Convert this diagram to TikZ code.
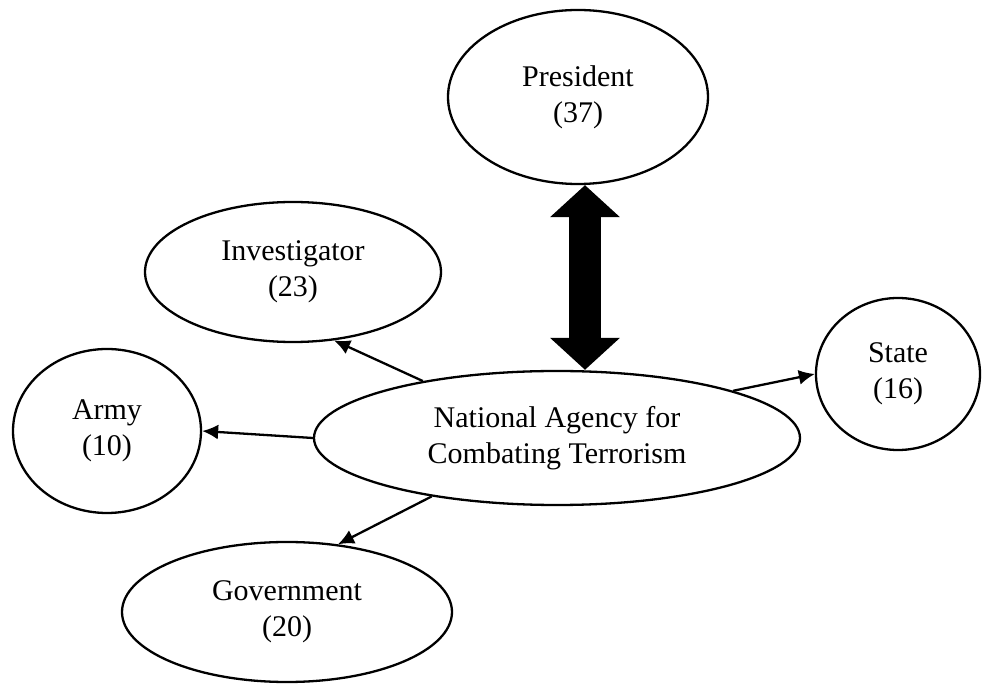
\documentclass[tikz,border=0pt]{standalone}
\usepackage{fontspec}
\setmainfont{Liberation Serif}
\usepackage{tikz}
\usetikzlibrary{shapes.geometric}
\usetikzlibrary{arrows.meta}
\tikzset{>={Latex[length=8pt,width=7.5pt]}}
\tikzset{
  oval/.style={ellipse,draw,inner sep=0pt,align=center,
    font=\fontsize{15}{18}\selectfont},
  bigarrow/.style={line width=16pt,
    {Triangle[length=16pt,width=34pt]}-{Triangle[length=16pt,width=34pt]}}
}

\begin{document}
\begin{tikzpicture}[x=0.5pt,y=-0.5pt,line width=1.15pt]
  \useasboundingbox (0,0) rectangle (982,684);

  % centre
  \node[oval,minimum width=243pt,minimum height=67pt]
    (agency) at (557,438) {National Agency for\\Combating Terrorism};

  % around it
  \node[oval,minimum width=130pt,minimum height=87pt]
    (pres) at (578,97) {President\\(37)};
  \node[oval,minimum width=148pt,minimum height=70pt]
    (inv) at (293,272) {Investigator\\(23)};
  \node[oval,minimum width=94pt,minimum height=82pt]
    (army) at (107,431) {Army\\(10)};
  \node[oval,minimum width=82pt,minimum height=76pt]
    (state) at (898,374) {State\\(16)};
  \node[oval,minimum width=165pt,minimum height=70pt]
    (gov) at (287,612) {Government\\(20)};

  \draw[bigarrow] ([xshift=3.5pt]pres.south) -- ([xshift=3.5pt]pres.south |- agency.north);
  \draw[->] (agency.157) -- (inv.301);
  \draw[->] (agency.west) -- (army.east);
  \draw[->] (agency.15) -- (state.west);
  \draw[->] (agency.205) -- (gov.53);
\end{tikzpicture}
\end{document}
